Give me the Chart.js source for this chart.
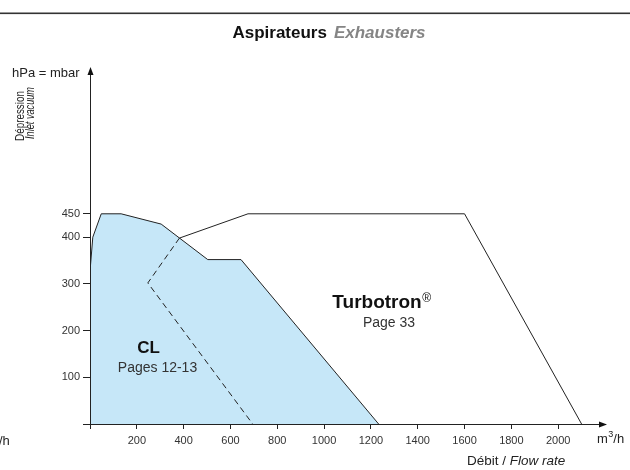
<!DOCTYPE html>
<html>
<head>
<meta charset="utf-8">
<script src="https://cdn.jsdelivr.net/npm/chart.js@4.4.0/dist/chart.umd.min.js"></script>
<style>
  html, body { margin: 0; padding: 0; background: #fff; }
  #wrap { position: relative; width: 630px; height: 470px; }
</style>
</head>
<body>
<div id="wrap"><canvas id="chart"></canvas></div>
<script>
// flow rate (m3/h) / inlet vacuum (hPa)
const clFlow = [0, 12, 48, 133, 304, 503, 645, 1233];
const clVacuum = [327, 400, 450, 450, 428, 352, 352, 0];
const clDashFlow = [382, 247, 695];
const clDashVacuum = [398, 302, 0];
const turboFlow = [382, 675, 1600, 2100];
const turboVacuum = [398, 450, 450, 0];
const xTicks = [0, 200, 400, 600, 800, 1000, 1200, 1400, 1600, 1800, 2000];
const yTicks = [0, 100, 200, 300, 400, 450];

const FONT = "'Liberation Sans', Arial, sans-serif";
Chart.defaults.font.family = FONT;

function toPoints(xs, ys) {
  return xs.map((x, i) => ({ x: x, y: ys[i] }));
}

function txt(ctx, s, x, y, font, color, align) {
  ctx.font = font;
  ctx.fillStyle = color;
  ctx.textAlign = align || 'left';
  ctx.textBaseline = 'alphabetic';
  ctx.fillText(s, x, y);
  return ctx.measureText(s).width;
}

// vertical text squeezed to a given length (the original face is narrower)
function vtxt(ctx, s, x, y, font, len) {
  ctx.save();
  ctx.translate(x, y);
  ctx.rotate(-Math.PI / 2);
  ctx.font = font;
  const k = len / ctx.measureText(s).width;
  ctx.scale(k, 1);
  txt(ctx, s, 0, 0, font, '#222');
  ctx.restore();
}

const decor = {
  id: 'decor',
  afterDraw(chart) {
    const ctx = chart.ctx;
    const { left, right, top, bottom } = chart.chartArea;
    ctx.save();

    // rule across the top
    ctx.fillStyle = '#333';
    ctx.fillRect(0, 12.5, 630, 1.6);

    // title
    ctx.font = 'bold 17px ' + FONT;
    const w1 = ctx.measureText('Aspirateurs').width;
    ctx.font = 'italic bold 17px ' + FONT;
    const w2 = ctx.measureText('Exhausters').width;
    const gap = 7;
    let tx = 329 - (w1 + gap + w2) / 2;
    txt(ctx, 'Aspirateurs', tx, 38, 'bold 17px ' + FONT, '#111');
    txt(ctx, 'Exhausters', tx + w1 + gap, 38, 'italic bold 17px ' + FONT, '#858585');

    // arrows
    ctx.fillStyle = '#111';
    const ay = Math.round(bottom) + 0.5;
    ctx.beginPath();
    ctx.moveTo(right + 2, ay);
    ctx.lineTo(right - 6, ay - 3);
    ctx.lineTo(right - 6, ay + 3);
    ctx.closePath();
    ctx.fill();
    const ax = Math.round(left) + 0.5;
    ctx.beginPath();
    ctx.moveTo(ax, top - 2);
    ctx.lineTo(ax - 3, top + 6);
    ctx.lineTo(ax + 3, top + 6);
    ctx.closePath();
    ctx.fill();

    // axis titles
    txt(ctx, 'hPa = mbar', 12, 77, '13px ' + FONT, '#222');
    vtxt(ctx, 'Dépression', 23.5, 141, '12px ' + FONT, 50);
    vtxt(ctx, 'Inlet vacuum', 33.5, 139, 'italic 12px ' + FONT, 52);

    let mx = 597;
    mx += txt(ctx, 'm', mx, 443, '13px ' + FONT, '#222');
    mx += txt(ctx, '3', mx + 0.5, 437, '9px ' + FONT, '#222') + 0.5;
    txt(ctx, '/h', mx, 443, '13px ' + FONT, '#222');
    txt(ctx, '/h', -1, 445, '13px ' + FONT, '#222');

    let dx = 467;
    dx += txt(ctx, 'Débit / ', dx, 465, '13.5px ' + FONT, '#222');
    txt(ctx, 'Flow rate', dx, 465, 'italic 13.5px ' + FONT, '#222');

    // product labels
    txt(ctx, 'CL', 148.5, 353, 'bold 17px ' + FONT, '#111', 'center');
    txt(ctx, 'Pages 12-13', 157.5, 372, '14px ' + FONT, '#333', 'center');
    const tw = txt(ctx, 'Turbotron', 377, 308, 'bold 19px ' + FONT, '#111', 'center');
    txt(ctx, '®', 377 + tw / 2 + 0.5, 302, '12px ' + FONT, '#111');
    txt(ctx, 'Page 33', 389, 327, '14px ' + FONT, '#333', 'center');

    ctx.restore();
  }
};

new Chart(document.getElementById('chart'), {
  type: 'line',
  data: {
    datasets: [
      {
        label: 'CL (limite)',
        data: toPoints(clDashFlow, clDashVacuum),
        borderColor: '#222',
        borderWidth: 1,
        borderDash: [6, 4],
        fill: false,
        pointRadius: 0
      },
      {
        label: 'Turbotron',
        data: toPoints(turboFlow, turboVacuum),
        borderColor: '#222',
        borderWidth: 1,
        fill: false,
        pointRadius: 0
      },
      {
        label: 'CL',
        data: toPoints(clFlow, clVacuum),
        borderColor: '#222',
        borderWidth: 1,
        backgroundColor: '#c6e7f8',
        fill: 'origin',
        pointRadius: 0
      }
    ]
  },
  options: {
    responsive: true,
    maintainAspectRatio: false,
    animation: false,
    layout: { padding: { top: 69, right: 25, bottom: 0, left: 0 } },
    elements: { line: { tension: 0 } },
    plugins: { legend: { display: false }, tooltip: { enabled: false } },
    scales: {
      x: {
        type: 'linear',
        min: 0,
        max: 2200,
        afterBuildTicks: s => { s.ticks = xTicks.map(v => ({ value: v })); },
        afterFit: s => { s.height = 46; },
        grid: { drawOnChartArea: false, tickLength: 5, color: '#222', lineWidth: 1 },
        border: { color: '#222', width: 1, z: 1 },
        ticks: {
          autoSkip: false, maxRotation: 0, padding: 5, color: '#333',
          font: { size: 11 },
          callback: v => (v === 0 ? '' : String(v))
        }
      },
      y: {
        type: 'linear',
        min: 0,
        max: 760,
        afterBuildTicks: s => { s.ticks = yTicks.map(v => ({ value: v })); },
        afterFit: s => { s.width = 90; },
        grid: { drawOnChartArea: false, tickLength: 7, color: '#222', lineWidth: 1 },
        border: { color: '#222', width: 1, z: 1 },
        ticks: {
          autoSkip: false, padding: 3, color: '#333',
          font: { size: 11 },
          callback: v => (v === 0 ? '' : String(v))
        }
      }
    }
  },
  plugins: [decor]
});
</script>
</body>
</html>
